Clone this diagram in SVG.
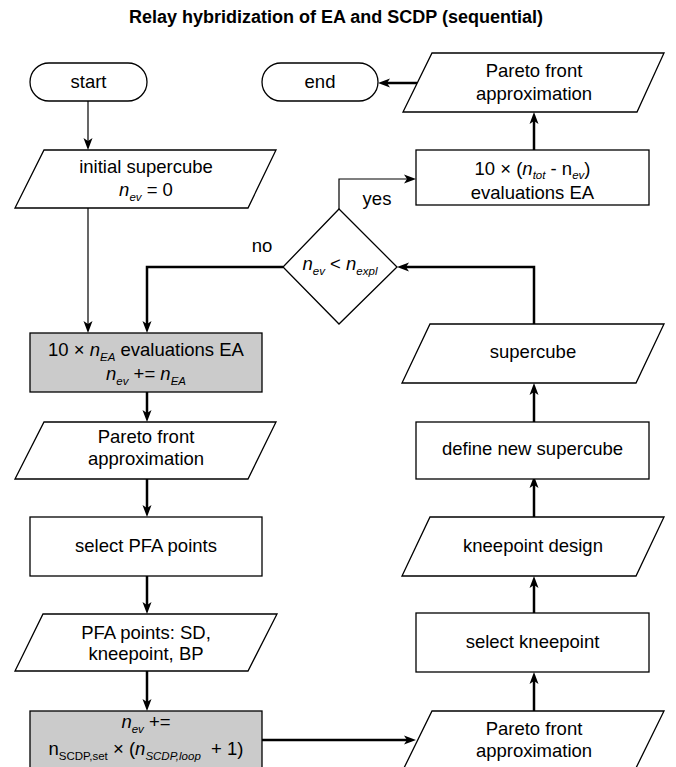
<svg xmlns="http://www.w3.org/2000/svg" width="676" height="767" viewBox="0 0 676 767">
<style>
  text { font-family: "Liberation Sans", Arial, sans-serif; font-size: 18.5px; fill: #000; text-anchor: middle; }
  .title { font-weight: bold; font-size: 18px; }
  .i { font-style: italic; }
  .sub { font-size: 11.5px; font-style: italic; }
  .subn { font-size: 11.5px; }
  .shape { fill: #fff; stroke: #000; stroke-width: 1.3; }
  .gray { fill: #cbcbcb; stroke: #000; stroke-width: 1.3; }
  .thin { fill: none; stroke: #000; stroke-width: 1.2; }
  .thick { fill: none; stroke: #000; stroke-width: 2.5; }
</style>
<defs>
  <marker id="ah" viewBox="0 0 12 10" refX="6" refY="5" markerWidth="12" markerHeight="10" markerUnits="userSpaceOnUse" orient="auto">
    <path d="M0,0.5 L12,5 L0,9.5 L3,5 Z" fill="#000"/>
  </marker>
</defs>
<rect width="676" height="767" fill="#fff"/>
<text class="title" x="336" y="23">Relay hybridization of EA and SCDP (sequential)</text>

<g id="connectors">
  <path class="thick" d="M417,83 H384" marker-end="url(#ah)"/>
  <path class="thick" d="M534,150 V118" marker-end="url(#ah)"/>
  <path class="thin" d="M88,101 V144" marker-end="url(#ah)"/>
  <path class="thin" d="M339,209 V179 H410" marker-end="url(#ah)"/>
  <path class="thick" d="M283,267 H147 V327" marker-end="url(#ah)"/>
  <path class="thin" d="M88,208 V327" marker-end="url(#ah)"/>
  <path class="thick" d="M534,324 V267 H403" marker-end="url(#ah)"/>
  <path class="thick" d="M147,392 V416" marker-end="url(#ah)"/>
  <path class="thick" d="M534,422 V389" marker-end="url(#ah)"/>
  <path class="thick" d="M147,479 V511" marker-end="url(#ah)"/>
  <path class="thick" d="M534,517 V482" marker-end="url(#ah)"/>
  <path class="thick" d="M147,576 V608" marker-end="url(#ah)"/>
  <path class="thick" d="M534,613 V582" marker-end="url(#ah)"/>
  <path class="thick" d="M147,671 V705" marker-end="url(#ah)"/>
  <path class="thick" d="M262,740 H410" marker-end="url(#ah)"/>
  <path class="thick" d="M534,711 V678" marker-end="url(#ah)"/>
</g>

<g id="start">
  <rect class="shape" x="30" y="63" width="117" height="38" rx="19"/>
  <text x="88.5" y="88">start</text>
</g>
<g id="end">
  <rect class="shape" x="262" y="63" width="116" height="38" rx="19"/>
  <text x="320" y="88">end</text>
</g>
<g id="pfa-final">
  <polygon class="shape" points="432,53 664,53 637,112 403,112"/>
  <text x="534" y="77">Pareto front</text>
  <text x="534" y="100">approximation</text>
</g>
<g id="eval-final">
  <rect class="shape" x="416" y="150" width="233" height="55"/>
  <text x="532.5" y="175">10 × (<tspan class="i">n</tspan><tspan class="sub" dy="4">tot</tspan><tspan dy="-4"> - n</tspan><tspan class="sub" dy="4">ev</tspan><tspan dy="-4">)</tspan></text>
  <text x="532.5" y="199">evaluations EA</text>
</g>
<g id="initial">
  <polygon class="shape" points="44,150 276,150 248,208 15,208"/>
  <text x="146" y="173">initial supercube</text>
  <text x="146" y="196"><tspan class="i">n</tspan><tspan class="sub" dy="5">ev</tspan><tspan dy="-5"> = 0</tspan></text>
</g>
<g id="decision">
  <polygon class="shape" points="339,209 397,267 339,324 283,267"/>
  <text x="340" y="270"><tspan class="i">n</tspan><tspan class="sub" dy="5">ev</tspan><tspan dy="-5"> &lt; </tspan><tspan class="i">n</tspan><tspan class="sub" dy="5">expl</tspan></text>
  <text x="377" y="205">yes</text>
  <text x="262" y="252">no</text>
</g>
<g id="eval-ea">
  <rect class="gray" x="30" y="333" width="232" height="59"/>
  <text x="146" y="356">10 × <tspan class="i">n</tspan><tspan class="sub" dy="5">EA</tspan><tspan dy="-5"> evaluations EA</tspan></text>
  <text x="146" y="380"><tspan class="i">n</tspan><tspan class="sub" dy="5">ev</tspan><tspan dy="-5"> += </tspan><tspan class="i">n</tspan><tspan class="sub" dy="5">EA</tspan></text>
</g>
<g id="supercube">
  <polygon class="shape" points="430,324 664,324 636,383 402,383"/>
  <text x="533" y="358">supercube</text>
</g>
<g id="pfa-1">
  <polygon class="shape" points="44,422 276,422 248,479 15,479"/>
  <text x="146" y="443">Pareto front</text>
  <text x="146" y="465">approximation</text>
</g>
<g id="define-supercube">
  <rect class="shape" x="416" y="422" width="233" height="57"/>
  <text x="532.5" y="455">define new supercube</text>
</g>
<g id="select-pfa">
  <rect class="shape" x="30" y="517" width="232" height="59"/>
  <text x="146" y="552">select PFA points</text>
</g>
<g id="kneepoint-design">
  <polygon class="shape" points="430,517 664,517 636,576 402,576"/>
  <text x="533" y="552">kneepoint design</text>
</g>
<g id="pfa-points">
  <polygon class="shape" points="43,614 277,614 248,671 15,671"/>
  <text x="146" y="639">PFA points: SD,</text>
  <text x="146" y="660">kneepoint, BP</text>
</g>
<g id="select-kneepoint">
  <rect class="shape" x="416" y="613" width="233" height="59"/>
  <text x="532.5" y="648">select kneepoint</text>
</g>
<g id="scdp">
  <rect class="gray" x="30" y="711" width="232" height="80"/>
  <text x="146" y="728"><tspan class="i">n</tspan><tspan class="sub" dy="5">ev</tspan><tspan dy="-5"> +=</tspan></text>
  <text x="146" y="755">n<tspan class="subn" dy="5">SCDP,set</tspan><tspan dy="-5"> × (</tspan><tspan class="i">n</tspan><tspan class="sub" dy="5">SCDP,loop</tspan><tspan dy="-5">&#160;&#160;+ 1)</tspan></text>
</g>
<g id="pfa-2">
  <polygon class="shape" points="432,711 664,711 635,770 403,770"/>
  <text x="534" y="735">Pareto front</text>
  <text x="534" y="757">approximation</text>
</g>
</svg>
